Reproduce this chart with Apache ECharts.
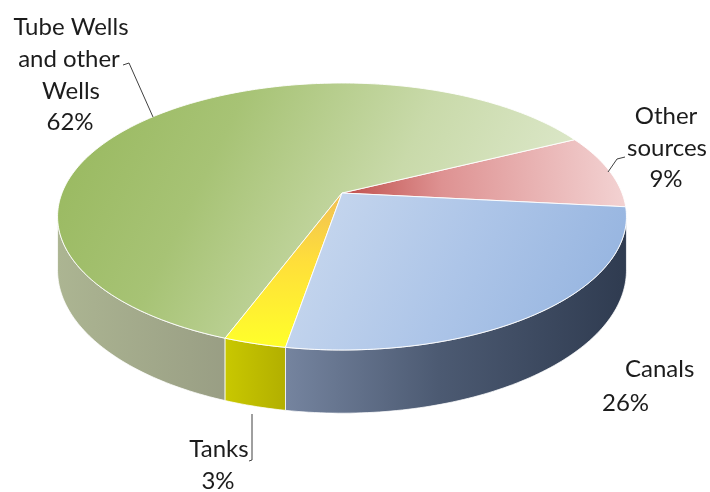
<!DOCTYPE html>
<html><head><meta charset="utf-8">
<script src="https://cdn.jsdelivr.net/npm/echarts@6/dist/echarts.min.js"></script>
<style>html,body{margin:0;padding:0;background:#fff}#c{width:710px;height:492px}</style>
</head><body><div id="c"></div>
<script>
// ---- data ----
const categories = ['Other sources', 'Tube Wells and other Wells', 'Tanks', 'Canals'];
const values = [9, 62, 3, 26];
const labelLines = [['Other', 'sources'], ['Tube Wells', 'and other', 'Wells'], ['Tanks'], ['Canals']];

// ---- styling / layout ----
const START_ANGLE = -6;      // degrees, counter-clockwise
const K = 0.176;             // perspective strength
const M = 0.462;             // vertical squash of the pie disc
const DEPTH = 0.186;         // thickness of the pie
const FONT = '24px Lato, "Open Sans", sans-serif';
const TEXT_COLOR = '#1c1c1c';

function lin(x, y, x2, y2, stops) {
  return { type: 'linear', x: x, y: y, x2: x2, y2: y2,
    colorStops: stops.map(s => ({ offset: s[0], color: s[1] })) };
}
const topFill = [
  lin(0, 0.5, 1, 0.3, [[0, '#c0504d'], [0.35, '#de9292'], [1, '#f3d3d3']]),
  lin(0, 0, 1, 1, [[0, '#96b75b'], [0.3, '#a7c375'], [0.6, '#c9daaa'], [1, '#e6eed9']]),
  lin(0, 0, 0, 1, [[0, '#f0bf55'], [0.45, '#ffdf3a'], [1, '#ffff2a']]),
  lin(0, 0, 1, 1, [[0, '#cbdaef'], [0.5, '#adc5e8'], [1, '#91b1de']])
];
const sideFill = [
  '#b04a48',
  lin(0, 0, 1, 0, [[0, '#acb592'], [1, '#999e84']]),
  lin(0, 0, 1, 0, [[0, '#c9c800'], [1, '#b2af00']]),
  lin(0, 0, 1, 0, [[0, '#75849f'], [0.45, '#4c5a72'], [1, '#2f3b50']])
];
// label placement (pixels): each line [x, baseline, align]; leader polyline
const labelLayout = [
  { lines: [[666, 125, 'center'], [667, 157, 'center'], [666, 188, 'center']], leader: [[625, 157], [617, 159], [608, 172]] },
  { lines: [[71, 36, 'center'], [69, 68, 'center'], [71, 100, 'center'], [70, 131, 'center']], leader: [[123, 65], [129, 63], [153, 117]] },
  { lines: [[219, 458, 'center'], [218, 490, 'center']], leader: [[252, 414], [252, 460], [249, 461]] },
  { lines: [[625, 378, 'left'], [602, 412, 'left']], leader: null }
];

// ---- geometry from data ----
const total = values.reduce((a, b) => a + b, 0);
const angles = [];
let acc = START_ANGLE;
values.forEach(v => { const a0 = acc; acc += v / total * 360; angles.push([a0, acc]); });

function proj(deg, z) {
  const t = deg * Math.PI / 180, s = Math.sin(t), c = Math.cos(t), den = 1 + K * s;
  return [c / den, (-M * s + z * DEPTH) / den];
}
const silA = 180 + Math.asin(K) * 180 / Math.PI;
const silB = 360 - Math.asin(K) * 180 / Math.PI;

function arc(a0, a1, z) {
  const pts = [];
  const n = Math.max(2, Math.ceil(Math.abs(a1 - a0)));
  for (let j = 0; j <= n; j++) pts.push(proj(a0 + (a1 - a0) * j / n, z));
  return pts;
}

const chart = echarts.init(document.getElementById('c'), null, { renderer: 'canvas' });
const seriesData = values.map((v, i) => [i, v]);

chart.setOption({
  backgroundColor: '#ffffff',
  animation: false,
  grid: { left: 6, right: 32, top: 11, bottom: 19 },
  xAxis: { type: 'value', min: -1.2, max: 1.2, show: false },
  yAxis: { type: 'value', min: -0.65, max: 1.0, inverse: true, show: false },
  series: [
    { // side walls
      type: 'custom', z: 1, data: seriesData,
      renderItem: function (params, api) {
        const i = api.value(0);
        let a0 = angles[i][0], a1 = angles[i][1];
        while (a0 < 0) { a0 += 360; a1 += 360; }
        const children = [];
        [[silA, silB], [silA + 360, silB + 360]].forEach(r => {
          const b0 = Math.max(a0, r[0]), b1 = Math.min(a1, r[1]);
          if (b1 > b0) {
            const top = arc(b0, b1, 0), bot = arc(b0, b1, 1).reverse();
            const pts = top.concat(bot).map(p => api.coord(p));
            children.push({ type: 'polygon', shape: { points: pts },
              style: { fill: sideFill[i], stroke: 'rgba(255,255,255,0.75)', lineWidth: 1 } });
          }
        });
        return { type: 'group', children: children };
      }
    },
    { // top faces
      type: 'custom', z: 2, data: seriesData,
      renderItem: function (params, api) {
        const i = api.value(0);
        const pts = [[0, 0]].concat(arc(angles[i][0], angles[i][1], 0)).map(p => api.coord(p));
        return { type: 'polygon', shape: { points: pts },
          style: { fill: topFill[i], stroke: 'rgba(255,255,255,0.9)', lineWidth: 1, lineJoin: 'round' } };
      }
    },
    { // labels
      type: 'custom', z: 3, coordinateSystem: 'none', data: seriesData,
      renderItem: function (params, api) {
        const i = params.dataIndex;
        const texts = labelLines[i].concat([values[i] + '%']);
        const lay = labelLayout[i];
        const children = texts.map((t, j) => ({
          type: 'text',
          style: { text: t, x: lay.lines[j][0], y: lay.lines[j][1] - 9, align: lay.lines[j][2],
            verticalAlign: 'middle', font: FONT, fill: TEXT_COLOR }
        }));
        if (lay.leader) {
          children.push({ type: 'polyline', shape: { points: lay.leader },
            style: { stroke: '#404040', lineWidth: 1, fill: null } });
        }
        return { type: 'group', children: children };
      }
    }
  ]
});
</script>
</body></html>
